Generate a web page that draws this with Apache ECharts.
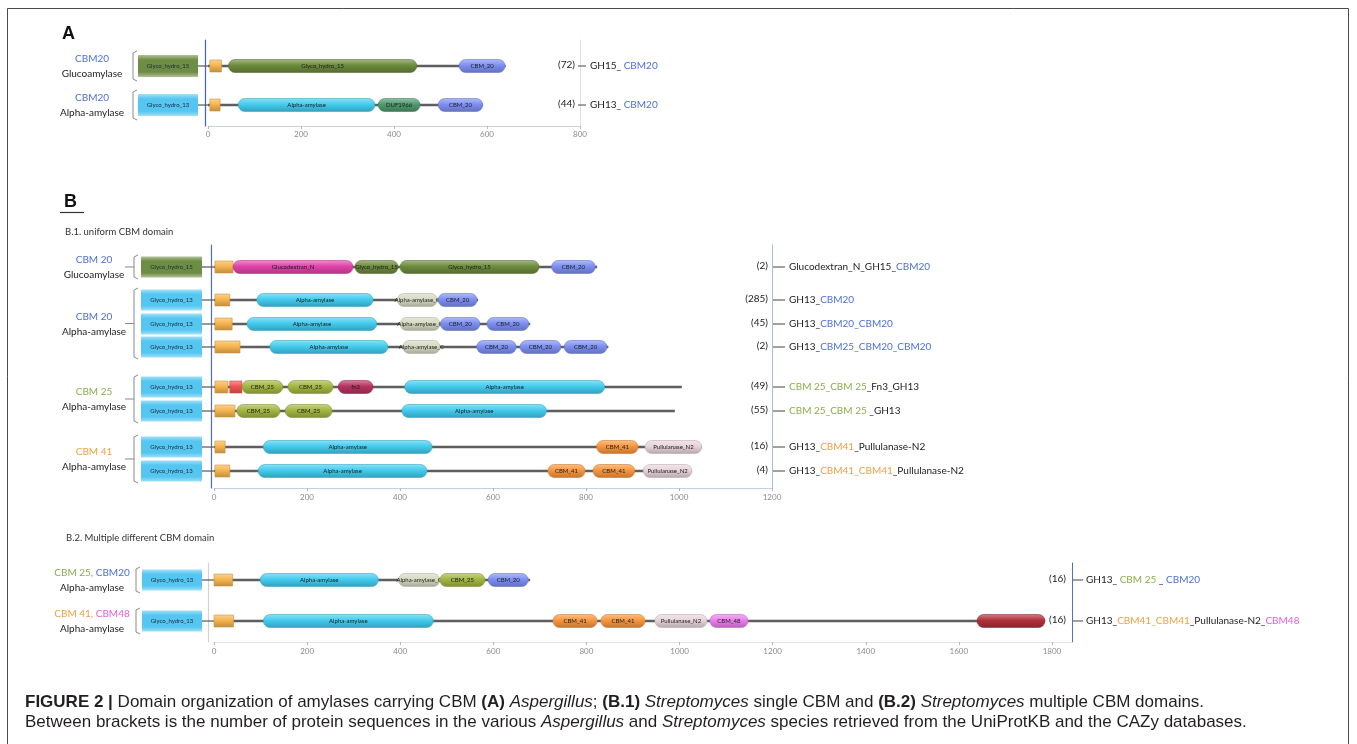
<!DOCTYPE html>
<html><head><meta charset="utf-8">
<script src="https://cdn.jsdelivr.net/npm/echarts@6/dist/echarts.min.js"></script>
<style>html,body{margin:0;padding:0;background:#fff}#chart{width:1357px;height:744px}</style>
</head><body><div id="chart"></div>
<script>
// ================= DATA =================
// domain key -> printed name
const domainNames = {SP:'', GH15:'Glyco_hydro_15', CBM20:'CBM_20', AA:'Alpha-amylase', DUF:'DUF1966',
  GDN:'Glucodextran_N', AAC:'Alpha-amylase_C', CBM25:'CBM_25', RED:'', FN3:'fn3', CBM41:'CBM_41',
  PUL:'Pullulanase_N2', CBM48:'CBM_48', DKR:''};

// ---- Panel A (Aspergillus)
const familyA = ['Glyco_hydro_15','Glyco_hydro_13'];
const lengthsA = [640, 591];
const countsA = [72, 44];
const domainsA = [ // [row, domain, start, end]
  [0,'SP',4,29],[0,'GH15',44,449],[0,'CBM20',540,639],
  [1,'SP',4,26],[1,'AA',65,359],[1,'DUF',366,456],[1,'CBM20',495,591]];
const groupRowsA = [[0,0],[1,1]];
const groupHeadsA = [[['CBM20','c20']],[['CBM20','c20']]];
const groupEnzA = ['Glucoamylase','Alpha-amylase'];
const labelsA = [[['GH15_ ','t'],['CBM20','c20']],[['GH13_ ','t'],['CBM20','c20']]];
const ticksA = [0,200,400,600,800];

// ---- Panel B.1 (uniform CBM domain)
const familyB1 = ['Glyco_hydro_15','Glyco_hydro_13','Glyco_hydro_13','Glyco_hydro_13','Glyco_hydro_13','Glyco_hydro_13','Glyco_hydro_13','Glyco_hydro_13'];
const lengthsB1 = [824, 568, 680, 848, 1006, 991, 1049, 1028];
const countsB1 = [2, 285, 45, 2, 49, 55, 16, 4];
const domainsB1 = [
  [0,'SP',2,41],[0,'GDN',41,299],[0,'GH15',303,396],[0,'GH15',400,699],[0,'CBM20',726,820],
  [1,'SP',2,34],[1,'AA',92,342],[1,'AAC',394,480],[1,'CBM20',482,566],
  [2,'SP',2,39],[2,'AA',71,350],[2,'AAC',400,486],[2,'CBM20',487,572],[2,'CBM20',587,677],
  [3,'SP',2,56],[3,'AA',120,374],[3,'AAC',406,486],[3,'CBM20',565,650],[3,'CBM20',658,746],[3,'CBM20',753,845],
  [4,'SP',2,30],[4,'RED',34,60],[4,'CBM25',60,148],[4,'CBM25',159,256],[4,'FN3',267,342],[4,'AA',410,840],
  [5,'SP',2,45],[5,'CBM25',49,142],[5,'CBM25',153,254],[5,'AA',404,715],
  [6,'SP',2,24],[6,'AA',106,469],[6,'CBM41',823,912],[6,'PUL',927,1049],
  [7,'SP',2,34],[7,'AA',95,458],[7,'CBM41',718,798],[7,'CBM41',815,905],[7,'PUL',923,1028]];
const groupRowsB1 = [[0,0],[1,3],[4,5],[6,7]];
const groupHeadsB1 = [[['CBM 20','c20']],[['CBM 20','c20']],[['CBM 25','c25']],[['CBM 41','c41']]];
const groupEnzB1 = ['Glucoamylase','Alpha-amylase','Alpha-amylase','Alpha-amylase'];
const labelsB1 = [
  [['Glucodextran_N_GH15_','t'],['CBM20','c20']],
  [['GH13_','t'],['CBM20','c20']],
  [['GH13_','t'],['CBM20_CBM20','c20']],
  [['GH13_','t'],['CBM25_CBM20_CBM20','c20']],
  [['CBM 25_CBM 25','c25'],['_Fn3_GH13','t']],
  [['CBM 25_CBM 25 ','c25'],['_GH13','t']],
  [['GH13_','t'],['CBM41','c41'],['_Pullulanase-N2','t']],
  [['GH13_','t'],['CBM41_CBM41','c41'],['_Pullulanase-N2','t']]];
const ticksB1 = [0,200,400,600,800,1000,1200];

// ---- Panel B.2 (multiple different CBM domains)
const familyB2 = ['Glyco_hydro_13','Glyco_hydro_13'];
const lengthsB2 = [679, 1785];
const countsB2 = [16, 16];
const domainsB2 = [
  [0,'SP',0,40],[0,'AA',99,353],[0,'AAC',396,485],[0,'CBM25',485,582],[0,'CBM20',589,675],
  [1,'SP',0,42],[1,'AA',106,471],[1,'CBM41',728,823],[1,'CBM41',831,926],[1,'PUL',947,1059],[1,'CBM48',1065,1147],[1,'DKR',1639,1785]];
const groupRowsB2 = [[0,0],[1,1]];
const groupHeadsB2 = [[['CBM 25, ','c25'],['CBM20','c20']],[['CBM 41, ','c41'],['CBM48','c48']]];
const groupEnzB2 = ['Alpha-amylase','Alpha-amylase'];
const labelsB2 = [
  [['GH13_ ','t'],['CBM 25','c25'],[' _ ','t'],['CBM20','c20']],
  [['GH13_','t'],['CBM41_CBM41','c41'],['_Pullulanase-N2_','t'],['CBM48','c48']]];
const ticksB2 = [0,200,400,600,800,1000,1200,1400,1600,1800];

// ================= STYLE / LAYOUT =================
const FONT = 'Lato, "Open Sans", sans-serif';
const TXT = {t:'#222222', c20:'#4F70D3', c25:'#8BAE4C', c41:'#F0A043', c48:'#DF5FE4'};
const domainColors = {SP:'#F6B54E', GH15:'#6C8B3C', CBM20:'#7D8FF2', AA:'#43CCEF', DUF:'#4E9A6C',
  GDN:'#E143A9', AAC:'#D6D9C2', CBM25:'#A2B641', RED:'#F05454', FN3:'#B5335E', CBM41:'#F7963D',
  PUL:'#E8D4DB', CBM48:'#EA7EEC', DKR:'#B0303A'};
const familyColors = {'Glyco_hydro_15':'#6E8D44','Glyco_hydro_13':'#55C6F1'};

const panels = [
  {key:'A', grid:{left:208, top:40, width:372, height:86}, xMax:800, yMax:2.205, slots:[0.667,1.667],
   ticks:ticksA, leftColor:'#3F63C6', rightColor:'#E0E0E0', bottomColor:'#C6D0E6', axisOffset:3, labelMargin:4,
   box:[-70,-10], boxH:22, bracketX:-75, brExt:15, brDash:false, labelX:-116,
   countDx:-5, dash:[-2,6], textDx:10,
   family:familyA, lengths:lengthsA, counts:countsA, domains:domainsA, groupRows:groupRowsA, groupHeads:groupHeadsA, groupEnz:groupEnzA, labels:labelsA},
  {key:'B1', grid:{left:214, top:245, width:558, height:243}, xMax:1200, yMax:10.125,
   slots:[0.917,2.292,3.292,4.25,5.917,6.917,8.417,9.417],
   ticks:ticksB1, leftColor:'#4A6FC8', rightColor:'#A9BDDD', bottomColor:'#C3CFE6', axisOffset:3, labelMargin:5,
   box:[-73,-12], boxH:21, bracketX:-80, brExt:12, brDash:true, labelX:-120,
   countDx:-4, dash:[1,13], textDx:17,
   family:familyB1, lengths:lengthsB1, counts:countsB1, domains:domainsB1, groupRows:groupRowsB1, groupHeads:groupHeadsB1, groupEnz:groupEnzB1, labels:labelsB1},
  {key:'B2', grid:{left:214, top:563, width:858, height:79}, xMax:1843, yMax:1.927, slots:[0.415,1.415],
   ticks:ticksB2, leftColor:'#D2D2D2', rightColor:'#5071C2', bottomColor:'#E4E4E4', axisOffset:6, labelMargin:5,
   box:[-72,-12], boxH:21, bracketX:-78, brExt:13, brDash:false, labelX:-122,
   countDx:-6, dash:[1,11], textDx:14,
   family:familyB2, lengths:lengthsB2, counts:countsB2, domains:domainsB2, groupRows:groupRowsB2, groupHeads:groupHeadsB2, groupEnz:groupEnzB2, labels:labelsB2}
];

function mix(hex, t, target){
  const n = parseInt(hex.slice(1),16);
  let r=(n>>16)&255, g=(n>>8)&255, b=n&255;
  r=Math.round(r+(target-r)*t); g=Math.round(g+(target-g)*t); b=Math.round(b+(target-b)*t);
  return 'rgb('+r+','+g+','+b+')';
}
function pillFill(c){
  return {type:'linear',x:0,y:0,x2:0,y2:1,colorStops:[
    {offset:0,color:mix(c,0.4,255)},{offset:0.45,color:c},{offset:1,color:mix(c,0.22,0)}]};
}
function boxFill(c){
  return {type:'linear',x:0,y:0,x2:0,y2:1,colorStops:[
    {offset:0,color:mix(c,0.45,255)},{offset:0.22,color:c},{offset:0.78,color:c},{offset:1,color:mix(c,0.45,255)}]};
}
function richOf(segs){
  return segs.map(s=>'{'+s[1]+'|'+s[0]+'}').join('');
}
const richStyles = {};
Object.keys(TXT).forEach(k=>{ richStyles[k] = {fill:TXT[k], color:TXT[k], fontSize:10, fontFamily:FONT}; });

// ================= SERIES =================
const series = [];
panels.forEach((P, gi)=>{
  const xi = gi, yi = gi*2, ys = P.slots;
  // backbone lines
  series.push({type:'custom', xAxisIndex:xi, yAxisIndex:yi, clip:false, silent:true, z:2,
    data: P.lengths.map((L,i)=>[0, L, ys[i]]),
    renderItem:(p, api)=>{
      const a = api.coord([api.value(0), api.value(2)]), b = api.coord([api.value(1), api.value(2)]);
      return {type:'line', shape:{x1:a[0],y1:a[1],x2:b[0],y2:b[1]}, style:{stroke:'#5E5E5E', lineWidth:2.4}};
    }});
  // domains
  series.push({type:'custom', xAxisIndex:xi, yAxisIndex:yi, clip:false, silent:true, z:3,
    data: P.domains.map(d=>[d[2], d[3], ys[d[0]]]),
    renderItem:(p, api)=>{
      const key = P.domains[p.dataIndex][1];
      const s = api.coord([api.value(0), api.value(2)]), e = api.coord([api.value(1), api.value(2)]);
      const rectLike = (key==='SP' || key==='RED');
      const h = rectLike ? 12 : 13;
      const c = domainColors[key];
      return {type:'group', children:[
        {type:'rect', shape:{x:s[0], y:s[1]-h/2, width:e[0]-s[0], height:h, r: rectLike?0:h/2},
         style:{fill: pillFill(c), stroke: mix(c,0.18,0), lineWidth:0.6}},
        {type:'text', style:{text:domainNames[key], x:(s[0]+e[0])/2, y:s[1], align:'center', verticalAlign:'middle',
         textAlign:'center', textVerticalAlign:'middle', font:'6px '+FONT, fill:'#1b1b1b'}}
      ]};
    }});
  // family boxes on the left
  series.push({type:'custom', xAxisIndex:xi, yAxisIndex:yi, clip:false, silent:true, z:1,
    data: P.family.map((f,i)=>[0, ys[i]]),
    renderItem:(p, api)=>{
      const o = api.coord([api.value(0), api.value(1)]);
      const x0 = o[0]+P.box[0], x1 = o[0]+P.box[1], h = P.boxH;
      const fam = P.family[p.dataIndex];
      return {type:'group', children:[
        {type:'line', shape:{x1:x1, y1:o[1], x2:o[0], y2:o[1]}, style:{stroke:'#555', lineWidth:1.2}},
        {type:'rect', shape:{x:x0, y:o[1]-h/2, width:x1-x0, height:h}, style:{fill:boxFill(familyColors[fam])}},
        {type:'text', style:{text:fam, x:(x0+x1)/2, y:o[1], align:'center', verticalAlign:'middle',
         textAlign:'center', textVerticalAlign:'middle', font:'6px '+FONT, fill:'#1d2a33'}}
      ]};
    }});
  // group labels + brackets
  series.push({type:'custom', xAxisIndex:xi, yAxisIndex:yi, clip:false, silent:true, z:1,
    data: P.groupRows.map(g=>[0, ys[g[0]], ys[g[1]]]),
    renderItem:(p, api)=>{
      const a = api.coord([0, api.value(1)]), b = api.coord([0, api.value(2)]);
      const top = a[1]-P.brExt, bot = b[1]+P.brExt, mid = (top+bot)/2, bx = a[0]+P.bracketX;
      const ch = [
        {type:'polyline', shape:{points:[[bx+4,top],[bx,top+2],[bx,bot-2],[bx+4,bot]]}, style:{stroke:'#8a8a8a', lineWidth:1, fill:null}},
        {type:'text', style:{text:richOf(P.groupHeads[p.dataIndex]), rich:richStyles, x:a[0]+P.labelX, y:mid-7,
          align:'center', verticalAlign:'middle', textAlign:'center', textVerticalAlign:'middle', font:'10px '+FONT}},
        {type:'text', style:{text:P.groupEnz[p.dataIndex], x:a[0]+P.labelX, y:mid+8, align:'center', verticalAlign:'middle',
          textAlign:'center', textVerticalAlign:'middle', font:'10px '+FONT, fill:'#222'}}
      ];
      if (P.brDash) ch.push({type:'line', shape:{x1:bx-9, y1:mid, x2:bx, y2:mid}, style:{stroke:'#8a8a8a', lineWidth:1}});
      return {type:'group', children:ch};
    }});
  // right side: counts and architecture labels
  series.push({type:'custom', xAxisIndex:xi, yAxisIndex:yi, clip:false, silent:true, z:1,
    data: P.counts.map((c,i)=>[P.xMax, ys[i]]),
    renderItem:(p, api)=>{
      const o = api.coord([api.value(0), api.value(1)]);
      return {type:'group', children:[
        {type:'text', style:{text:'('+P.counts[p.dataIndex]+')', x:o[0]+P.countDx, y:o[1]-1, align:'right', verticalAlign:'middle',
          textAlign:'right', textVerticalAlign:'middle', font:'10px '+FONT, fill:'#222'}},
        {type:'line', shape:{x1:o[0]+P.dash[0], y1:o[1], x2:o[0]+P.dash[1], y2:o[1]}, style:{stroke:'#444', lineWidth:1}},
        {type:'text', style:{text:richOf(P.labels[p.dataIndex]), rich:richStyles, x:o[0]+P.textDx, y:o[1],
          align:'left', verticalAlign:'middle', textAlign:'left', textVerticalAlign:'middle', font:'10px '+FONT}}
      ]};
    }});
});

// ================= AXES =================
const grids = panels.map(P=>Object.assign({containLabel:false}, P.grid));
const xAxes = panels.map((P,gi)=>({
  type:'value', gridIndex:gi, min:0, max:P.xMax,
  axisLine:{show:true, onZero:false, lineStyle:{color:P.bottomColor, width:1}},
  axisTick:{show:true, length:3, customValues:P.ticks, lineStyle:{color:'#B0B8C8'}},
  axisLabel:{show:true, customValues:P.ticks, fontSize:8, color:'#8A8A8A', margin:P.labelMargin, fontFamily:FONT,
    formatter:(v)=>String(v)},
  splitLine:{show:false}
}));
const yAxes = [];
panels.forEach((P,gi)=>{
  yAxes.push({type:'value', gridIndex:gi, inverse:true, min:0, max:P.yMax, position:'left', offset:P.axisOffset,
    axisLine:{show:true, onZero:false, lineStyle:{color:P.leftColor, width:1.2}},
    axisTick:{show:false}, axisLabel:{show:false}, splitLine:{show:false}});
  yAxes.push({type:'value', gridIndex:gi, inverse:true, min:0, max:P.yMax, position:'right',
    axisLine:{show:true, onZero:false, lineStyle:{color:P.rightColor, width:1}},
    axisTick:{show:false}, axisLabel:{show:false}, splitLine:{show:false}});
});

// ================= TEXT / FRAME =================
const CAP = '"Liberation Sans", Arial, sans-serif';
const CAPSIZE = 17;
const capRich = {
  b:{fontWeight:'bold', fontSize:CAPSIZE, fontFamily:CAP, fill:'#231F20', color:'#231F20'},
  n:{fontSize:CAPSIZE, fontFamily:CAP, fill:'#231F20', color:'#231F20'},
  i:{fontStyle:'italic', fontSize:CAPSIZE, fontFamily:CAP, fill:'#231F20', color:'#231F20'}
};
function txt(text, x, y, font, fill, extra){
  return {type:'text', silent:true, x:x, y:y, style:Object.assign({text:text, font:font, fill:fill,
    align:'left', verticalAlign:'middle', textAlign:'left', textVerticalAlign:'middle'}, extra||{})};
}
const graphic = [
  {type:'rect', silent:true, z:-10, shape:{x:7.5, y:8.5, width:1341, height:760}, style:{fill:'none', stroke:'#4A4A4A', lineWidth:1}},
  txt('A', 62, 34, 'bold 18px '+CAP, '#111'),
  txt('B', 64, 202, 'bold 18px '+CAP, '#111'),
  {type:'line', silent:true, shape:{x1:60, y1:212.5, x2:84, y2:212.5}, style:{stroke:'#333', lineWidth:1.2}},
  txt('B.1. uniform CBM domain', 65, 232, '9.5px '+FONT, '#333'),
  txt('B.2. Multiple different CBM domain', 66, 538, '9.5px '+FONT, '#333'),
  txt('{b|FIGURE 2 | }{n|Domain organization of amylases carrying CBM }{b|(A) }{i|Aspergillus}{n|; }{b|(B.1) }{i|Streptomyces}{n| single CBM and }{b|(B.2) }{i|Streptomyces}{n| multiple CBM domains.}',
      25, 702, CAPSIZE+'px '+CAP, '#231F20', {rich:capRich}),
  txt('{n|Between brackets is the number of protein sequences in the various }{i|Aspergillus}{n| and }{i|Streptomyces}{n| species retrieved from the UniProtKB and the CAZy databases.}',
      25, 722, CAPSIZE+'px '+CAP, '#231F20', {rich:capRich})
];

const chart = echarts.init(document.getElementById('chart'), null, {renderer:'canvas', width:1357, height:744});
chart.setOption({
  animation:false,
  backgroundColor:'#ffffff',
  grid:grids, xAxis:xAxes, yAxis:yAxes, series:series, graphic:graphic
});
</script></body></html>
